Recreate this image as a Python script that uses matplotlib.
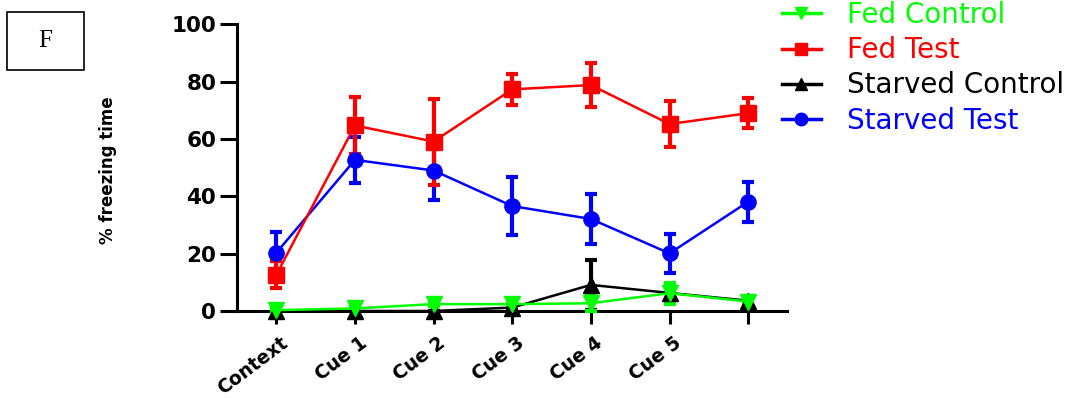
import numpy as np
import matplotlib
matplotlib.use("Agg")
import matplotlib.pyplot as plt
import matplotlib.transforms as mtransforms
from matplotlib.patches import Rectangle
from matplotlib.lines import Line2D

# x categories (last point has no label in the original)
labels = ["Context", "Cue 1", "Cue 2", "Cue 3", "Cue 4", "Cue 5", ""]

fed_control = [0.3, 0.9, 2.4, 2.4, 2.7, 6.2, 3.3]
fed_control_err = [0.5, 0.5, 0.8, 0.8, 2.7, 3.7, 1.0]

fed_test = [12.6, 64.7, 59.1, 77.3, 78.8, 65.2, 69.0]
fed_test_err = [4.7, 10.0, 15.0, 5.5, 7.8, 8.0, 5.2]

starved_control = [0.0, 0.0, 0.0, 1.2, 9.1, 6.3, 3.6]
starved_control_err = [0.0, 0.0, 0.0, 0.5, 8.7, 2.5, 1.6]

starved_test = [20.3, 52.7, 49.0, 36.6, 32.1, 20.1, 38.1]
starved_test_err = [7.3, 7.9, 10.2, 10.1, 8.7, 6.8, 7.0]

plt.rcParams['font.family'] = ['DejaVu Sans']

fig = plt.figure(figsize=(10.85, 3.98), dpi=100)
ax = fig.add_axes([0.2184, 0.2186, 0.5074, 0.7204])

x = np.arange(len(labels))

series = [
    ("Starved Control", starved_control, starved_control_err, "black", "^"),
    ("Starved Test", starved_test, starved_test_err, "#0000ff", "o"),
    ("Fed Test", fed_test, fed_test_err, "#ff0000", "s"),
    ("Fed Control", fed_control, fed_control_err, "#00ff00", "v"),
]
for name, vals, err, col, mk in series:
    ax.errorbar(x, vals, yerr=err, color=col, marker=mk, markersize=11,
                lw=1.8, elinewidth=3, capsize=4.5, capthick=3,
                clip_on=False, zorder=3)

ax.set_xlim(-0.5, 6.5)
ax.set_ylim(0, 100)
ax.set_yticks([0, 20, 40, 60, 80, 100])
ax.set_xticks(x)
ax.set_xticklabels(labels, rotation=37, ha="right", rotation_mode="anchor")

for s in ["top", "right"]:
    ax.spines[s].set_visible(False)
for s in ["left", "bottom"]:
    ax.spines[s].set_linewidth(2.2)

ax.tick_params(axis="y", length=12, width=2.2, labelsize=15.5, pad=3)
ax.tick_params(axis="x", length=9, width=2.2, labelsize=13.5, pad=7)
for t in ax.get_xticklabels() + ax.get_yticklabels():
    t.set_fontweight("bold")
shift = mtransforms.ScaledTranslation(4 / 100, 0, fig.dpi_scale_trans)
for t in ax.get_xticklabels():
    t.set_transform(t.get_transform() + shift)

fig.text(108 / 1085, 1 - 170 / 398, "% freezing time", rotation=90,
         fontsize=12, fontweight="bold", ha="center", va="center")

order = ["Fed Control", "Fed Test", "Starved Control", "Starved Test"]
colors = {"Fed Control": "#00ff00", "Fed Test": "#ff0000",
          "Starved Control": "black", "Starved Test": "#0000ff"}
markers = {"Fed Control": "v", "Fed Test": "s",
           "Starved Control": "^", "Starved Test": "o"}
handles = [Line2D([], [], color=colors[n], marker=markers[n], lw=2.5,
                  markersize=9) for n in order]
leg = fig.legend(handles, order, loc="upper left",
                 bbox_to_anchor=(782 / 1085, 1 - 1 / 398), frameon=False,
                 fontsize=20, handlelength=1.4, handletextpad=0.95,
                 labelspacing=0.26, borderpad=0, borderaxespad=0)
for t in leg.get_texts():
    t.set_color(colors[t.get_text()])

# panel letter box
fig.patches.append(Rectangle((7 / 1085, 1 - 70 / 398), 77 / 1085, 58 / 398,
                             transform=fig.transFigure, fill=False,
                             edgecolor="black", lw=1.2))
fig.text(45 / 1085, 1 - 41 / 398, "F", family="Liberation Serif",
         fontsize=18, ha="center", va="center")

fig.savefig("out.png", dpi=100)
